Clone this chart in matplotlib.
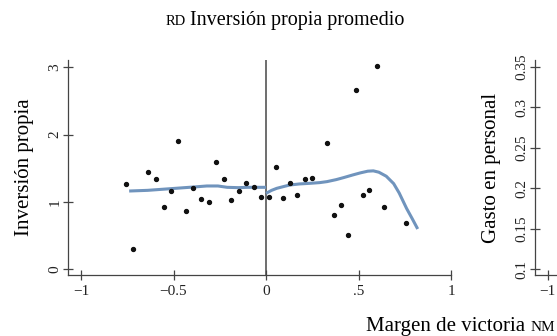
import numpy as np
import matplotlib
matplotlib.use('Agg')
import matplotlib.pyplot as plt

plt.rcParams['font.family'] = ['Liberation Serif', 'DejaVu Serif']

# puntos a la izquierda y derecha del umbral
x_izq = [-0.758, -0.719, -0.639, -0.597, -0.552, -0.512, -0.478, -0.435, -0.395,
         -0.352, -0.309, -0.269, -0.229, -0.189, -0.146, -0.107, -0.067, -0.025]
y_izq = [1.27, 0.30, 1.45, 1.34, 0.92, 1.165, 1.91, 0.86, 1.205,
         1.04, 0.99, 1.59, 1.34, 1.02, 1.165, 1.28, 1.22, 1.075]
x_der = [0.015, 0.056, 0.094, 0.132, 0.168, 0.213, 0.249, 0.327, 0.367,
         0.405, 0.443, 0.485, 0.524, 0.558, 0.602, 0.638, 0.755]
y_der = [1.075, 1.52, 1.06, 1.28, 1.105, 1.335, 1.354, 1.87, 0.81,
         0.95, 0.51, 2.66, 1.10, 1.17, 3.02, 0.92, 0.68]

# ajuste
fit_x_izq = [-0.74, -0.64, -0.54, -0.44, -0.39, -0.32, -0.26, -0.21, -0.15, -0.10, -0.05, 0.0]
fit_y_izq = [1.16, 1.17, 1.19, 1.21, 1.22, 1.235, 1.235, 1.215, 1.21, 1.215, 1.215, 1.215]
fit_x_der = [0.0, 0.03, 0.058, 0.10, 0.13, 0.18, 0.24, 0.29, 0.33, 0.38, 0.42, 0.47,
             0.51, 0.55, 0.58, 0.61, 0.65, 0.69, 0.72, 0.76, 0.79, 0.82]
fit_y_der = [1.125, 1.17, 1.20, 1.23, 1.25, 1.265, 1.275, 1.285, 1.30, 1.33, 1.36, 1.40,
             1.43, 1.455, 1.46, 1.44, 1.38, 1.27, 1.13, 0.90, 0.75, 0.595]

xticks = [-1, -0.5, 0, 0.5, 1]
xticklabels = ['\u22121', '\u22120.5', '0', '.5', '1']
yticks = [0, 1, 2, 3]
# panel derecho: solo se ve el comienzo
xticks2 = [-1]
xticklabels2 = ['\u22121']
yticks2 = [0.1, 0.15, 0.2, 0.25, 0.3, 0.35]
yticklabels2 = ['0.1', '0.15', '0.2', '0.25', '0.3', '0.35']

W, H = 557, 336
fig = plt.figure(figsize=(W / 100, H / 100), dpi=100)
axcol = '#444444'
curve = '#7094bd'


def style(ax):
    for s in ['top', 'right']:
        ax.spines[s].set_visible(False)
    for s in ['left', 'bottom']:
        ax.spines[s].set_color(axcol)
        ax.spines[s].set_linewidth(0.9)
    ax.tick_params(direction='inout', length=7, width=0.9, color=axcol,
                   labelsize=11, labelcolor='#222222')
    ax.tick_params(axis='y', labelrotation=90, pad=1.5)
    for lab in ax.get_yticklabels():
        lab.set_va('center')


ax = fig.add_axes([68.3 / W, 61 / H, (451 - 68.3) / W, 215 / H])
ax.set_xlim(-1.069, 1.0)
ax.set_ylim(-0.09, 3.11)
ax.axvline(0, color='#555555', lw=1.2, zorder=1)
ax.plot(fit_x_izq, fit_y_izq, color=curve, lw=2.2, solid_capstyle='butt', zorder=2)
ax.plot(fit_x_der, fit_y_der, color=curve, lw=2.2, solid_capstyle='butt', zorder=2)
ax.scatter(x_izq, y_izq, s=8, color='#111111', zorder=3)
ax.scatter(x_der, y_der, s=8, color='#111111', zorder=3)
ax.set_xticks(xticks)
ax.set_xticklabels(xticklabels)
ax.set_yticks(yticks)
ax.set_ylabel('Inversión propia', fontsize=15, labelpad=10)
style(ax)

# segundo panel (cortado por el borde)
ax2 = fig.add_axes([535 / W, 61 / H, (451 - 68.3) / W, 215 / H])
ax2.set_xlim(-1.069, 1.0)
ax2.set_ylim(0.0926, 0.3587)
ax2.set_xticks(xticks2)
ax2.set_xticklabels(xticklabels2)
ax2.set_yticks(yticks2)
ax2.set_yticklabels(yticklabels2)
ax2.set_ylabel('Gasto en personal', fontsize=15, labelpad=10)
style(ax2)

# titulo con versalitas
fig.canvas.draw()
r = fig.canvas.get_renderer()
ty = 1 - 25 / H
t1 = fig.text(0, ty, 'RD', fontsize=10.5, va='baseline')
t2 = fig.text(0, ty, ' Inversión propia promedio', fontsize=14.5, va='baseline')
w1 = t1.get_window_extent(r).width
w2 = t2.get_window_extent(r).width
x0 = 285 - (w1 + w2) / 2
t1.set_x(x0 / W)
t2.set_x((x0 + w1) / W)

# titulo eje x
xy = 1 - 331 / H
s1 = fig.text(0, xy, 'Margen de victoria ', fontsize=15, va='baseline')
s2 = fig.text(0, xy, 'NM', fontsize=11, va='baseline')
v1 = s1.get_window_extent(r).width
v2 = s2.get_window_extent(r).width
x1 = 555 - v1 - v2
s1.set_x(x1 / W)
s2.set_x((x1 + v1) / W)

fig.savefig('out.png', dpi=100)
